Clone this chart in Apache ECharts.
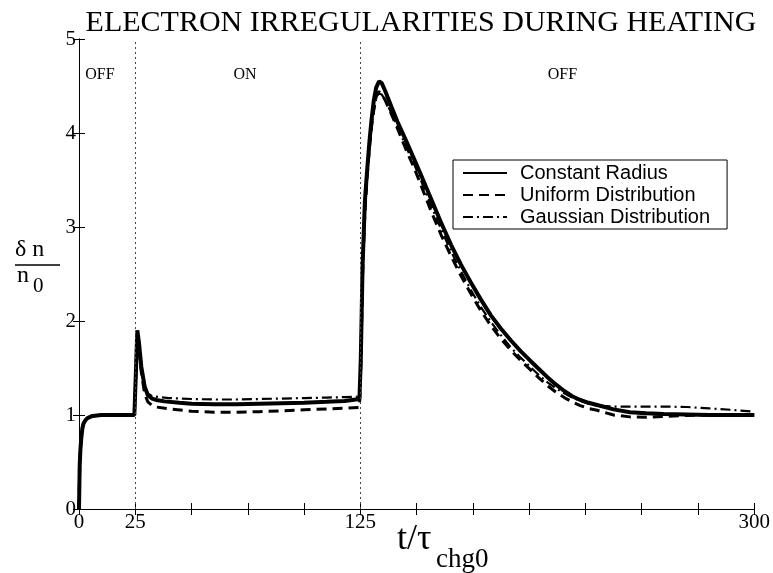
<!DOCTYPE html>
<html>
<head>
<meta charset="utf-8">
<script src="https://cdn.jsdelivr.net/npm/echarts@6/dist/echarts.min.js"></script>
<style>html,body{margin:0;padding:0;background:#fff}#c{width:773px;height:573px}</style>
</head>
<body>
<div id="c"></div>
<script>
const titleText = 'ELECTRON IRREGULARITIES DURING HEATING';
const seriesNames = ['Constant Radius', 'Uniform Distribution', 'Gaussian Distribution'];
const xTickLabels = [0, 25, 125, 300];
const yTickLabels = [0, 1, 2, 3, 4, 5];
const phaseLines = [25, 125];
const annoText = ['OFF', 'ON', 'OFF'];
const annoT = [9.3, 73.8, 214.8];
const annoV = [4.62, 4.62, 4.62];

const tConst = [0,0.3,0.6,1,1.5,2,3,4,6,10,15,20,24.6,25.2,25.9,26.6,27.7,29.2,30.6,32.5,34.3,38,44.6,50,60,70,80,90,100,110,118,124.6,125.2,125.6,126,127,128,129,130,131,132,133.3,134.5,136,138.8,141.5,144.9,148.5,152,156.4,160.8,165.3,169.7,174.1,178.5,183,187.4,191.8,196.2,200.6,204.3,208,211.8,215.6,219.1,222.7,226.4,230.2,237.5,244.8,252,259.8,270,280,290,300];
const vConst = [0,0.45,0.62,0.75,0.86,0.91,0.95,0.97,0.99,1.0,1.0,1.0,1.0,1.4,1.9,1.78,1.51,1.3,1.21,1.175,1.16,1.145,1.13,1.12,1.115,1.115,1.12,1.125,1.13,1.14,1.15,1.17,1.6,2.1,2.6,3.27,3.6,3.9,4.15,4.35,4.48,4.55,4.53,4.45,4.28,4.12,3.94,3.745,3.55,3.3,3.05,2.81,2.6,2.41,2.23,2.06,1.92,1.795,1.68,1.575,1.49,1.405,1.325,1.255,1.2,1.16,1.13,1.106,1.06,1.03,1.018,1.01,1.005,1.0,1.0,1.0];

const tUni = [0,0.3,0.6,1,1.5,2,3,4,6,10,15,20,24.6,25.2,25.9,26.6,27.7,29.2,30.6,32.5,34.3,40,50,60,70,80,90,100,110,118,124.6,125.2,125.6,126,127,128,129,130,131,132,133,134.5,136,138.8,141.8,145,149.2,152,156.4,160.8,165.3,169.7,174.1,178.5,183,187.4,191.8,196.2,200.6,204.3,208,211.8,215.6,219.1,222.7,226.4,230.2,237.5,244.8,252,259.8,270,280,290,300];
const vUni = [0,0.45,0.62,0.75,0.86,0.91,0.95,0.97,0.99,1.0,1.0,1.0,1.0,1.38,1.88,1.72,1.45,1.22,1.14,1.1,1.085,1.065,1.04,1.03,1.03,1.035,1.045,1.055,1.065,1.072,1.08,1.5,2.0,2.5,3.15,3.53,3.83,4.07,4.25,4.38,4.44,4.42,4.35,4.2,4.03,3.84,3.61,3.44,3.17,2.92,2.69,2.48,2.29,2.11,1.95,1.81,1.69,1.58,1.48,1.395,1.315,1.245,1.185,1.14,1.1,1.07,1.05,1.0,0.98,0.975,0.985,0.995,1.0,1.0,1.0];

const tGau = [0,0.3,0.6,1,1.5,2,3,4,6,10,15,20,24.6,25.2,25.9,26.6,27.7,29.2,30.6,32.5,35.8,40,50,60,70,80,90,100,110,118,124.6,125.2,125.6,126,127,128,129,130,131,132,133,134.5,136,138.8,141.8,145,149.2,152,156.4,160.8,165.3,169.7,174.1,178.5,183,187.4,191.8,196.2,200.6,204.3,208,211.8,215.6,219.1,222.7,226.4,230.2,237.5,244.8,252,259.8,270,280,290,300];
const vGau = [0,0.45,0.62,0.75,0.86,0.91,0.95,0.97,0.99,1.0,1.0,1.0,1.0,1.38,1.88,1.74,1.5,1.3,1.23,1.2,1.19,1.18,1.17,1.165,1.165,1.17,1.175,1.18,1.185,1.19,1.195,1.55,2.0,2.5,3.15,3.53,3.83,4.07,4.24,4.36,4.42,4.41,4.35,4.21,4.05,3.87,3.65,3.49,3.23,2.98,2.74,2.53,2.33,2.15,1.99,1.85,1.72,1.61,1.51,1.425,1.35,1.285,1.23,1.185,1.15,1.12,1.1,1.09,1.09,1.09,1.09,1.085,1.07,1.055,1.035];

const pairs = (t, v) => t.map((x, i) => [x, v[i]]);
const SERIF = 'Liberation Serif';
const SANS = 'Liberation Sans';

const chart = echarts.init(document.getElementById('c'), null, {renderer: 'canvas'});

const axisCommon = {
  axisLine: {show: true, lineStyle: {color: '#000', width: 1}},
  axisTick: {show: true, inside: true, length: 6, lineStyle: {color: '#000'}},
  splitLine: {show: false}
};

const option = {
  animation: false,
  backgroundColor: '#fff',
  title: {
    text: titleText, left: 416, top: 3, textAlign: 'center',
    textStyle: {fontFamily: SERIF, fontWeight: 'normal', fontSize: 30, color: '#000'}
  },
  grid: {left: 79, right: 15, top: 39, bottom: 64, containLabel: false},
  legend: {
    orient: 'vertical', left: 453, top: 160,
    backgroundColor: '#fff', borderColor: '#000', borderWidth: 1,
    padding: [3, 17, 2, 9], itemGap: 2, itemWidth: 44, itemHeight: 14,
    itemStyle: {opacity: 0},
    textStyle: {fontFamily: SANS, fontSize: 20, color: '#000', padding: [0, 0, 0, 8]},
    data: seriesNames
  },
  xAxis: [
    Object.assign({}, axisCommon, {
      type: 'value', min: 0, max: 300, interval: 25, position: 'bottom',
      axisLabel: {
        fontFamily: SERIF, fontSize: 21, color: '#000', margin: 3, hideOverlap: false,
        showMinLabel: true, showMaxLabel: true,
        formatter: v => xTickLabels.indexOf(v) >= 0 ? String(v) : ''
      }
    }),
    Object.assign({}, axisCommon, {
      type: 'value', min: 0, max: 300, interval: 25, position: 'top',
      axisLabel: {show: false}
    })
  ],
  yAxis: [
    Object.assign({}, axisCommon, {
      type: 'value', min: 0, max: 5, interval: 1, position: 'left',
      axisLabel: {
        fontFamily: SERIF, fontSize: 21, color: '#000', margin: 3,
        formatter: v => yTickLabels.indexOf(v) >= 0 ? String(v) : ''
      }
    }),
    Object.assign({}, axisCommon, {
      type: 'value', min: 0, max: 5, interval: 1, position: 'right',
      axisLabel: {show: false}
    })
  ],
  series: [
    {
      name: seriesNames[1], type: 'line', symbol: 'none', smooth: false, z: 3,
      data: pairs(tUni, vUni),
      lineStyle: {color: '#000', width: 3, type: [10, 6]},
      itemStyle: {color: '#000'}
    },
    {
      name: seriesNames[2], type: 'line', symbol: 'none', smooth: false, z: 3,
      data: pairs(tGau, vGau),
      lineStyle: {color: '#000', width: 2.2, type: [10, 4, 2, 4]},
      itemStyle: {color: '#000'}
    },
    {
      name: seriesNames[0], type: 'line', symbol: 'none', smooth: false, z: 4,
      data: pairs(tConst, vConst),
      lineStyle: {color: '#000', width: 4},
      itemStyle: {color: '#000'},
      markLine: {
        silent: true, symbol: 'none', label: {show: false},
        lineStyle: {color: '#444', width: 1, type: [2, 3]},
        data: phaseLines.map(x => ({xAxis: x}))
      }
    }
  ]
};
chart.setOption(option);

// annotations and axis titles
const g = [];
annoText.forEach((txt, i) => {
  const p = chart.convertToPixel({gridIndex: 0}, [annoT[i], annoV[i]]);
  g.push({type: 'text', x: p[0], y: p[1], style: {text: txt, fontFamily: SERIF, fontSize: 16, fill: '#000', align: 'center', verticalAlign: 'middle'}});
});
// y-axis name: delta n over n_0
g.push({type: 'text', x: 15, y: 238, style: {text: 'δ n', fontFamily: SERIF, fontSize: 24, fill: '#000'}});
g.push({type: 'line', shape: {x1: 15, y1: 265, x2: 60, y2: 265}, style: {stroke: '#000', lineWidth: 1.5}});
g.push({type: 'text', x: 17, y: 264, style: {text: 'n', fontFamily: SERIF, fontSize: 24, fill: '#000'}});
g.push({type: 'text', x: 33, y: 276, style: {text: '0', fontFamily: SERIF, fontSize: 21, fill: '#000'}});
// x-axis name: t/tau_chg0
g.push({type: 'text', x: 397, y: 522, style: {text: 't/τ', fontFamily: SERIF, fontSize: 36, fill: '#000'}});
g.push({type: 'text', x: 436, y: 546, style: {text: 'chg0', fontFamily: SERIF, fontSize: 27, fill: '#000'}});
chart.setOption({graphic: g});
</script>
</body>
</html>
